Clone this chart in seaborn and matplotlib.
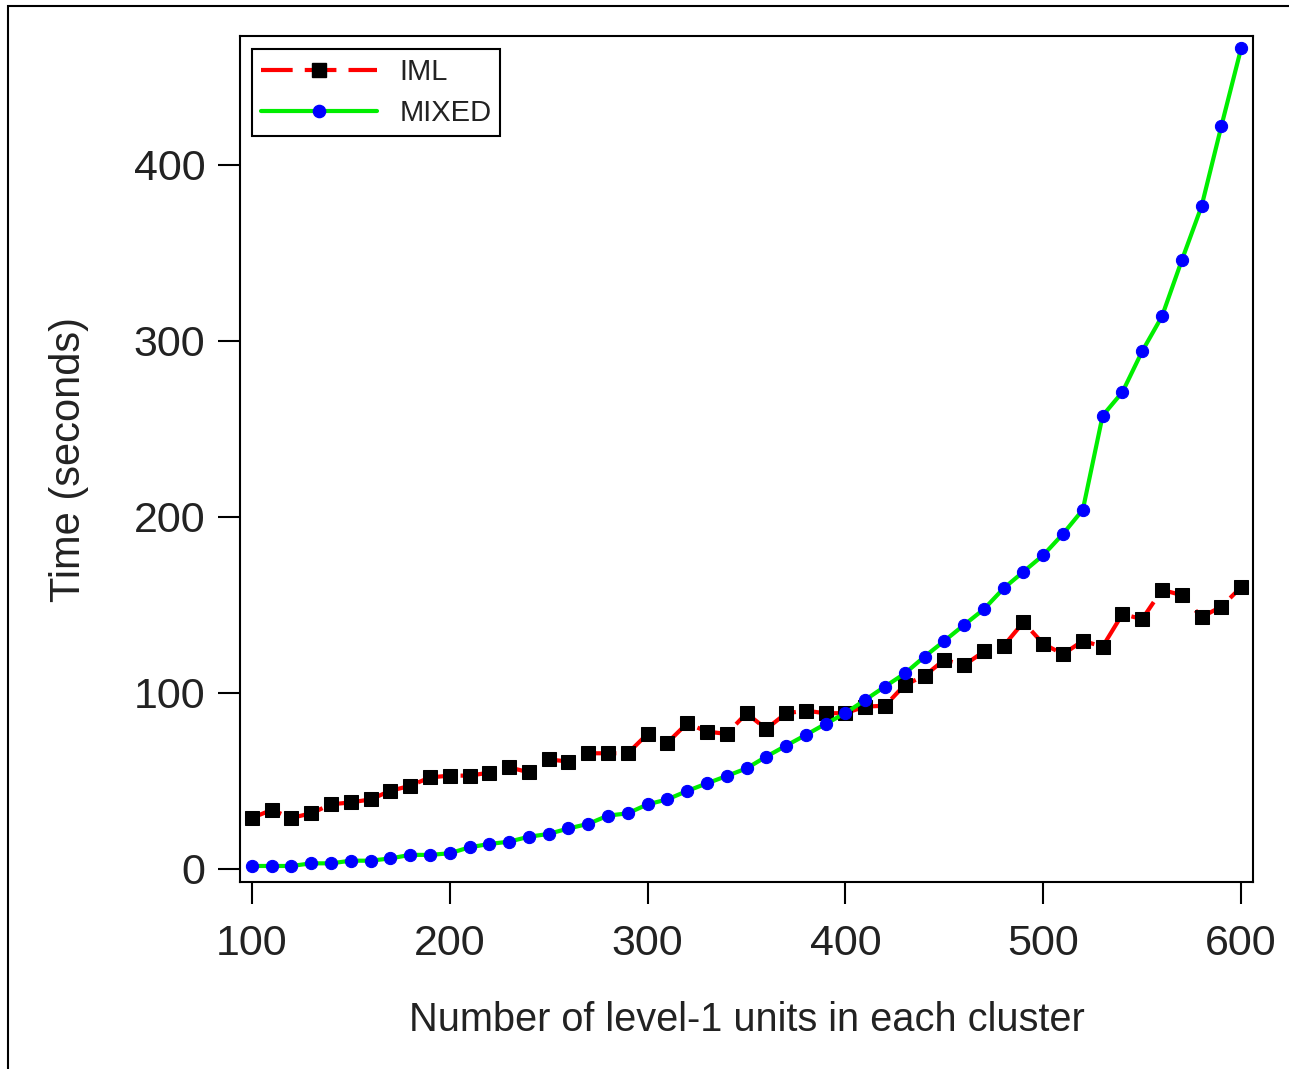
import matplotlib
matplotlib.use("Agg")
import matplotlib.pyplot as plt
from matplotlib.patches import Rectangle
from matplotlib.lines import Line2D
import seaborn as sns
import pandas as pd

units = [100, 110, 120, 130, 140, 150, 160, 170, 180, 190,
         200, 210, 220, 230, 240, 250, 260, 270, 280, 290,
         300, 310, 320, 330, 340, 350, 360, 370, 380, 390,
         400, 410, 420, 430, 440, 450, 460, 470, 480, 490,
         500, 510, 520, 530, 540, 550, 560, 570, 580, 590, 600]

iml_time = [29, 33.5, 29, 31.6, 36.7, 37.8, 39.5, 44.4, 47.2, 52,
            53, 53, 54.7, 57.7, 54.9, 62.2, 61, 65.7, 65.7, 65.7,
            76.7, 71.7, 82.7, 78, 76.7, 88.4, 79.5, 88.4, 89.9, 88.4,
            88.5, 92.2, 92.7, 104.5, 109.7, 118.8, 115.7, 123.5, 126.7, 140.2,
            127.8, 122, 129.5, 126.3, 144.7, 141.9, 158.5, 155.5, 143, 149, 160]

mixed_time = [1.7, 1.7, 1.7, 3.2, 3.2, 4.7, 4.7, 6, 8, 8,
              8.9, 12.3, 14.2, 15.5, 18.3, 19.9, 23, 25.6, 30.3, 31.6,
              36.7, 39.5, 44.3, 48.6, 52.8, 57.1, 63.8, 70, 76.1, 82.4,
              88.5, 96, 103.6, 111, 120.6, 129.5, 138.6, 147.5, 159.4, 168.8,
              178.2, 190.3, 204, 257.4, 270.8, 294, 313.8, 345.6, 376.3, 421.8, 466]

series_names = ["IML", "MIXED"]
x_ticks = [100, 200, 300, 400, 500, 600]
y_ticks = [0, 100, 200, 300, 400]

df = pd.DataFrame({"units": units, "IML": iml_time, "MIXED": mixed_time})

sns.set_style("ticks")
plt.rcParams["font.family"] = ["Liberation Sans", "DejaVu Sans"]

fig = plt.figure(figsize=(12.89, 10.69), dpi=100)
ax = fig.add_axes([240 / 1289, 1 - 882 / 1069, (1253 - 240) / 1289, (882 - 36) / 1069])

sns.lineplot(data=df, x="units", y="IML", ax=ax, color="#ff0000", linewidth=3,
             linestyle=(0, (7.6, 2.9)), marker="s", markersize=9.6,
             markerfacecolor="black", markeredgecolor="black", zorder=3)
sns.lineplot(data=df, x="units", y="MIXED", ax=ax, color="#00ee00", linewidth=3,
             linestyle="-", marker="o", markersize=8.8,
             markerfacecolor="#0000ff", markeredgecolor="#0000ff", zorder=4)

ax.set_xlim(94, 606)
ax.set_ylim(-7.4, 473)
ax.set_xticks(x_ticks)
ax.set_yticks(y_ticks)
ax.tick_params(axis="both", which="major", length=16, width=1.5, color="black",
               labelsize=31, labelcolor="#222222", direction="out")
ax.tick_params(axis="x", pad=14)
ax.tick_params(axis="y", pad=9)
for s in ax.spines.values():
    s.set_visible(True)
    s.set_linewidth(1.5)
    s.set_color("black")

ax.set_xlabel("Number of level-1 units in each cluster", fontsize=28.6, color="#222222", labelpad=27)
ax.set_ylabel("Time (seconds)", fontsize=30, color="#222222", labelpad=32)

handles = [
    Line2D([], [], color="#ff0000", linewidth=3, linestyle=(0, (7.6, 2.9)), marker="s",
           markersize=9.6, markerfacecolor="black", markeredgecolor="black"),
    Line2D([], [], color="#00ee00", linewidth=3, linestyle="-", marker="o",
           markersize=8.8, markerfacecolor="#0000ff", markeredgecolor="#0000ff"),
]
leg = ax.legend(handles, series_names, loc="upper left", bbox_to_anchor=(12 / 1013, 1 - 13 / 846),
                borderaxespad=0, fontsize=21, frameon=True, fancybox=False,
                handlelength=4.0, handletextpad=0.75, borderpad=0.3, labelspacing=0.45,
                edgecolor="black", framealpha=1)
leg.get_frame().set_linewidth(1.5)
for t in leg.get_texts():
    t.set_color("#222222")

fig.add_artist(Rectangle((8 / 1289, -0.1), 1.2, 1 - 6 / 1069 + 0.1, transform=fig.transFigure,
                         fill=False, edgecolor="black", linewidth=1.5, clip_on=False))

fig.savefig("out.png", dpi=100, facecolor="white")
